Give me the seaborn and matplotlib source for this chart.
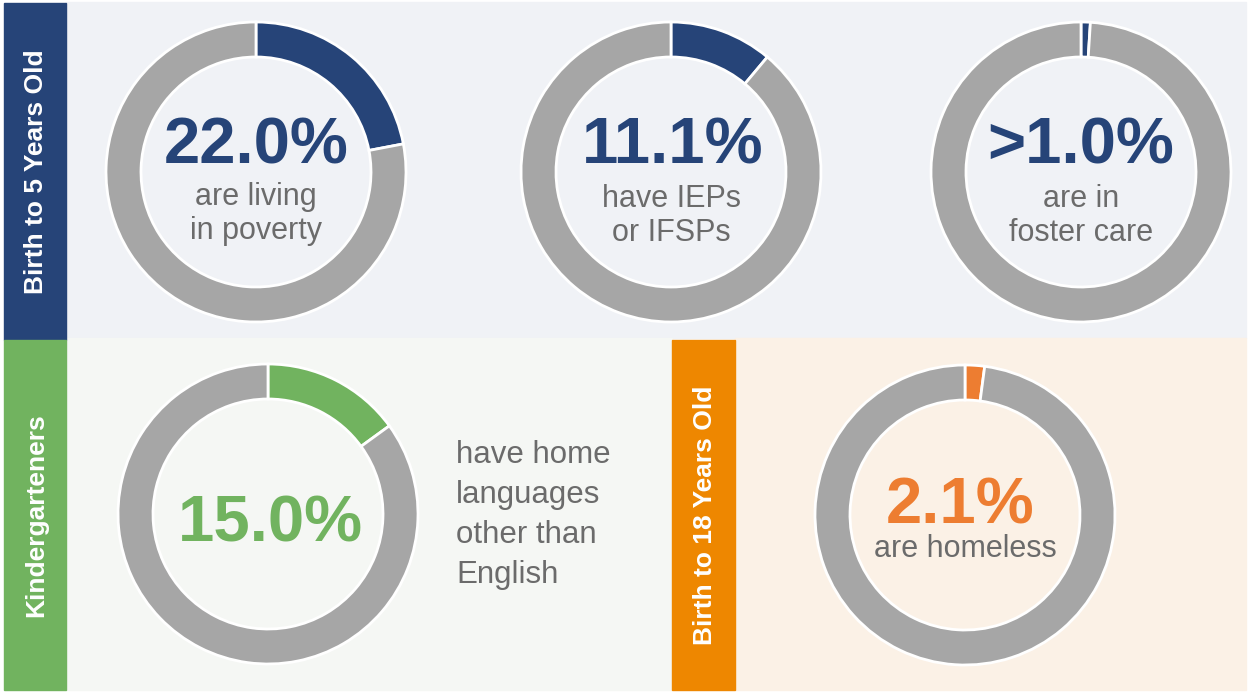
import matplotlib
matplotlib.use("Agg")
import matplotlib.pyplot as plt
from matplotlib import font_manager
from matplotlib.patches import Rectangle
import seaborn as sns

# ---- data ----
group_labels = ["Birth to 5 Years Old", "Kindergarteners", "Birth to 18 Years Old"]
pct_values = [22.0, 11.1, 1.0, 15.0, 2.1]
pct_labels = ["22.0%", "11.1%", ">1.0%", "15.0%", "2.1%"]
captions = [
    ["are living", "in poverty"],
    ["have IEPs", "or IFSPs"],
    ["are in", "foster care"],
    ["have home", "languages", "other than", "English"],
    ["are homeless"],
]
donut_group = [0, 0, 0, 1, 2]

# ---- style ----
sns.set_theme(style="white")
plt.rcParams["font.family"] = ["Liberation Sans", "DejaVu Sans"]

names = {f.name for f in font_manager.fontManager.ttflist}
if "Liberation Sans Narrow" in names:
    narrow = ["Liberation Sans Narrow", "Liberation Sans"]
    big_size, side_size = 53, 23
else:
    narrow = ["Liberation Sans", "DejaVu Sans"]
    big_size, side_size = 47, 19

navy = "#264478"
green = "#71b35f"
orange_bar = "#ee8700"
orange = "#ed7d31"
ring_gray = "#a6a6a6"
text_gray = "#6b6b6b"
accent = [navy, green, orange]
sidebar = [navy, green, orange_bar]

W, H = 1248, 692
fig = plt.figure(figsize=(W / 100, H / 100), dpi=100)
fig.patch.set_facecolor("white")
ax = fig.add_axes([0, 0, 1, 1])

# panel backgrounds
ax.add_patch(Rectangle((66, 2), 1180, 336, color="#f0f2f6", zorder=0))
ax.add_patch(Rectangle((66, 338), 606, 352, color="#f5f7f4", zorder=0))
ax.add_patch(Rectangle((735, 338), 511, 352, color="#fbf1e6", zorder=0))

# group sidebars (x, y, w, h) and label centres
bars = [(4, 3, 62, 337), (4, 340, 62, 350), (672, 340, 63, 350)]
for i, (x, y, w, h) in enumerate(bars):
    ax.add_patch(Rectangle((x, y), w, h, color=sidebar[i], zorder=0.5))
    ax.text(x + w / 2 + 1, y + h / 2, group_labels[i], rotation=90,
            ha="center", va="center", color="white", fontsize=side_size,
            fontweight="bold", family=narrow)

# donuts
centers = [(256, 172), (671, 172), (1081, 172), (268, 514), (965, 515)]
for i, v in enumerate(pct_values):
    col = accent[donut_group[i]]
    ax.pie([v, 100 - v], colors=[col, ring_gray], startangle=270,
           counterclock=True, center=centers[i], radius=150,
           wedgeprops=dict(width=35, edgecolor="white", linewidth=2))

# big numbers and captions
num_base = [164, 164, 164, 542, 523]
num_dx = [0, 2, 0, 2, -5]
cap_base = [205, 207, 207, None, 557]
for i, lab in enumerate(pct_labels):
    cx, cy = centers[i]
    col = accent[donut_group[i]]
    ax.text(cx + num_dx[i], num_base[i], lab, ha="center", va="baseline",
            color=col, fontsize=big_size, fontweight="bold", family=narrow)
    if cap_base[i] is not None:
        for j, line in enumerate(captions[i]):
            ax.text(cx, cap_base[i] + j * 34, line, ha="center",
                    va="baseline", color=text_gray, fontsize=22)

# side caption for kindergarteners
for j, line in enumerate(captions[3]):
    ax.text(456, 463 + j * 40, line, ha="left", va="baseline",
            color=text_gray, fontsize=22.5)

ax.set_xlim(0, W)
ax.set_ylim(H, 0)
ax.set_aspect("equal")
ax.axis("off")

fig.savefig("out.png", dpi=100)
